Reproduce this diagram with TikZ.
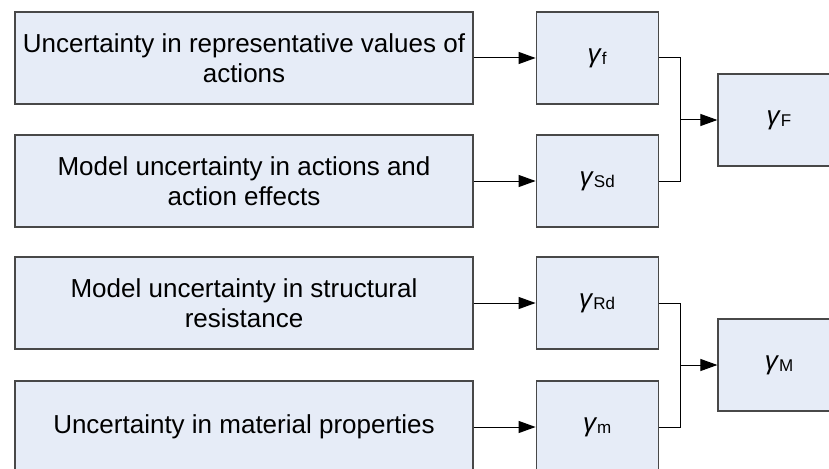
\documentclass[tikz,border=0pt]{standalone}
\usepackage{fontspec}
\setmainfont{Liberation Sans}
\usetikzlibrary{arrows.meta}
\usetikzlibrary{positioning}
\definecolor{boxfill}{RGB}{230,236,247}
\definecolor{boxline}{RGB}{72,72,72}
\newcommand{\gam}[1]{\textit{γ}{\fontsize{17}{17}\selectfont\raisebox{-2.5pt}{#1}}}

\begin{document}
\begin{tikzpicture}[x=1pt,y=-1pt,
	cause/.style={draw=boxline,line width=1.2pt,fill=boxfill,minimum width=458pt,minimum height=92pt,
		inner sep=0pt,align=center,font=\fontsize{26}{30}\selectfont},
	factor/.style={draw=boxline,line width=1.2pt,fill=boxfill,minimum width=122pt,minimum height=92pt,
		inner sep=0pt,font=\fontsize{26}{30}\selectfont},
	link/.style={line width=1pt,-{Triangle[length=17pt,width=12pt]}},
	joint/.style={line width=1pt}]

	\useasboundingbox (0,0) rectangle (829,468);

	% sources of uncertainty
	\node[cause] (c1) at (244,58) {Uncertainty in representative values of\\actions};
	\node[cause] (c2) at (244,181) {Model uncertainty in actions and\\action effects};
	\node[cause] (c3) at (244,303) {Model uncertainty in structural\\resistance};
	\node[cause] (c4) at (244,427) {Uncertainty in material properties};

	% partial factors
	\node[factor, right=62pt of c1] (gf) {\gam{f}};
	\node[factor, right=62pt of c2] (gsd) {\gam{Sd}};
	\node[factor, right=62pt of c3] (grd) {\gam{Rd}};
	\node[factor, right=62pt of c4] (gm) {\gam{m}};

	\node[factor] (gF) at (779,120) {\gam{F}};
	\node[factor] (gM) at (779,365) {\gam{M}};

	\coordinate (jF) at (680,120);
	\coordinate (jM) at (680,365);

	\draw[link] (c1) -- (gf);
	\draw[link] (c2) -- (gsd);
	\draw[link] (c3) -- (grd);
	\draw[link] (c4) -- (gm);

	\draw[joint] (gf.east) -| (jF) |- (gsd.east);
	\draw[joint] (grd.east) -| (jM) |- (gm.east);
	\draw[link] (jF) -- (gF);
	\draw[link] (jM) -- (gM);
\end{tikzpicture}
\end{document}
